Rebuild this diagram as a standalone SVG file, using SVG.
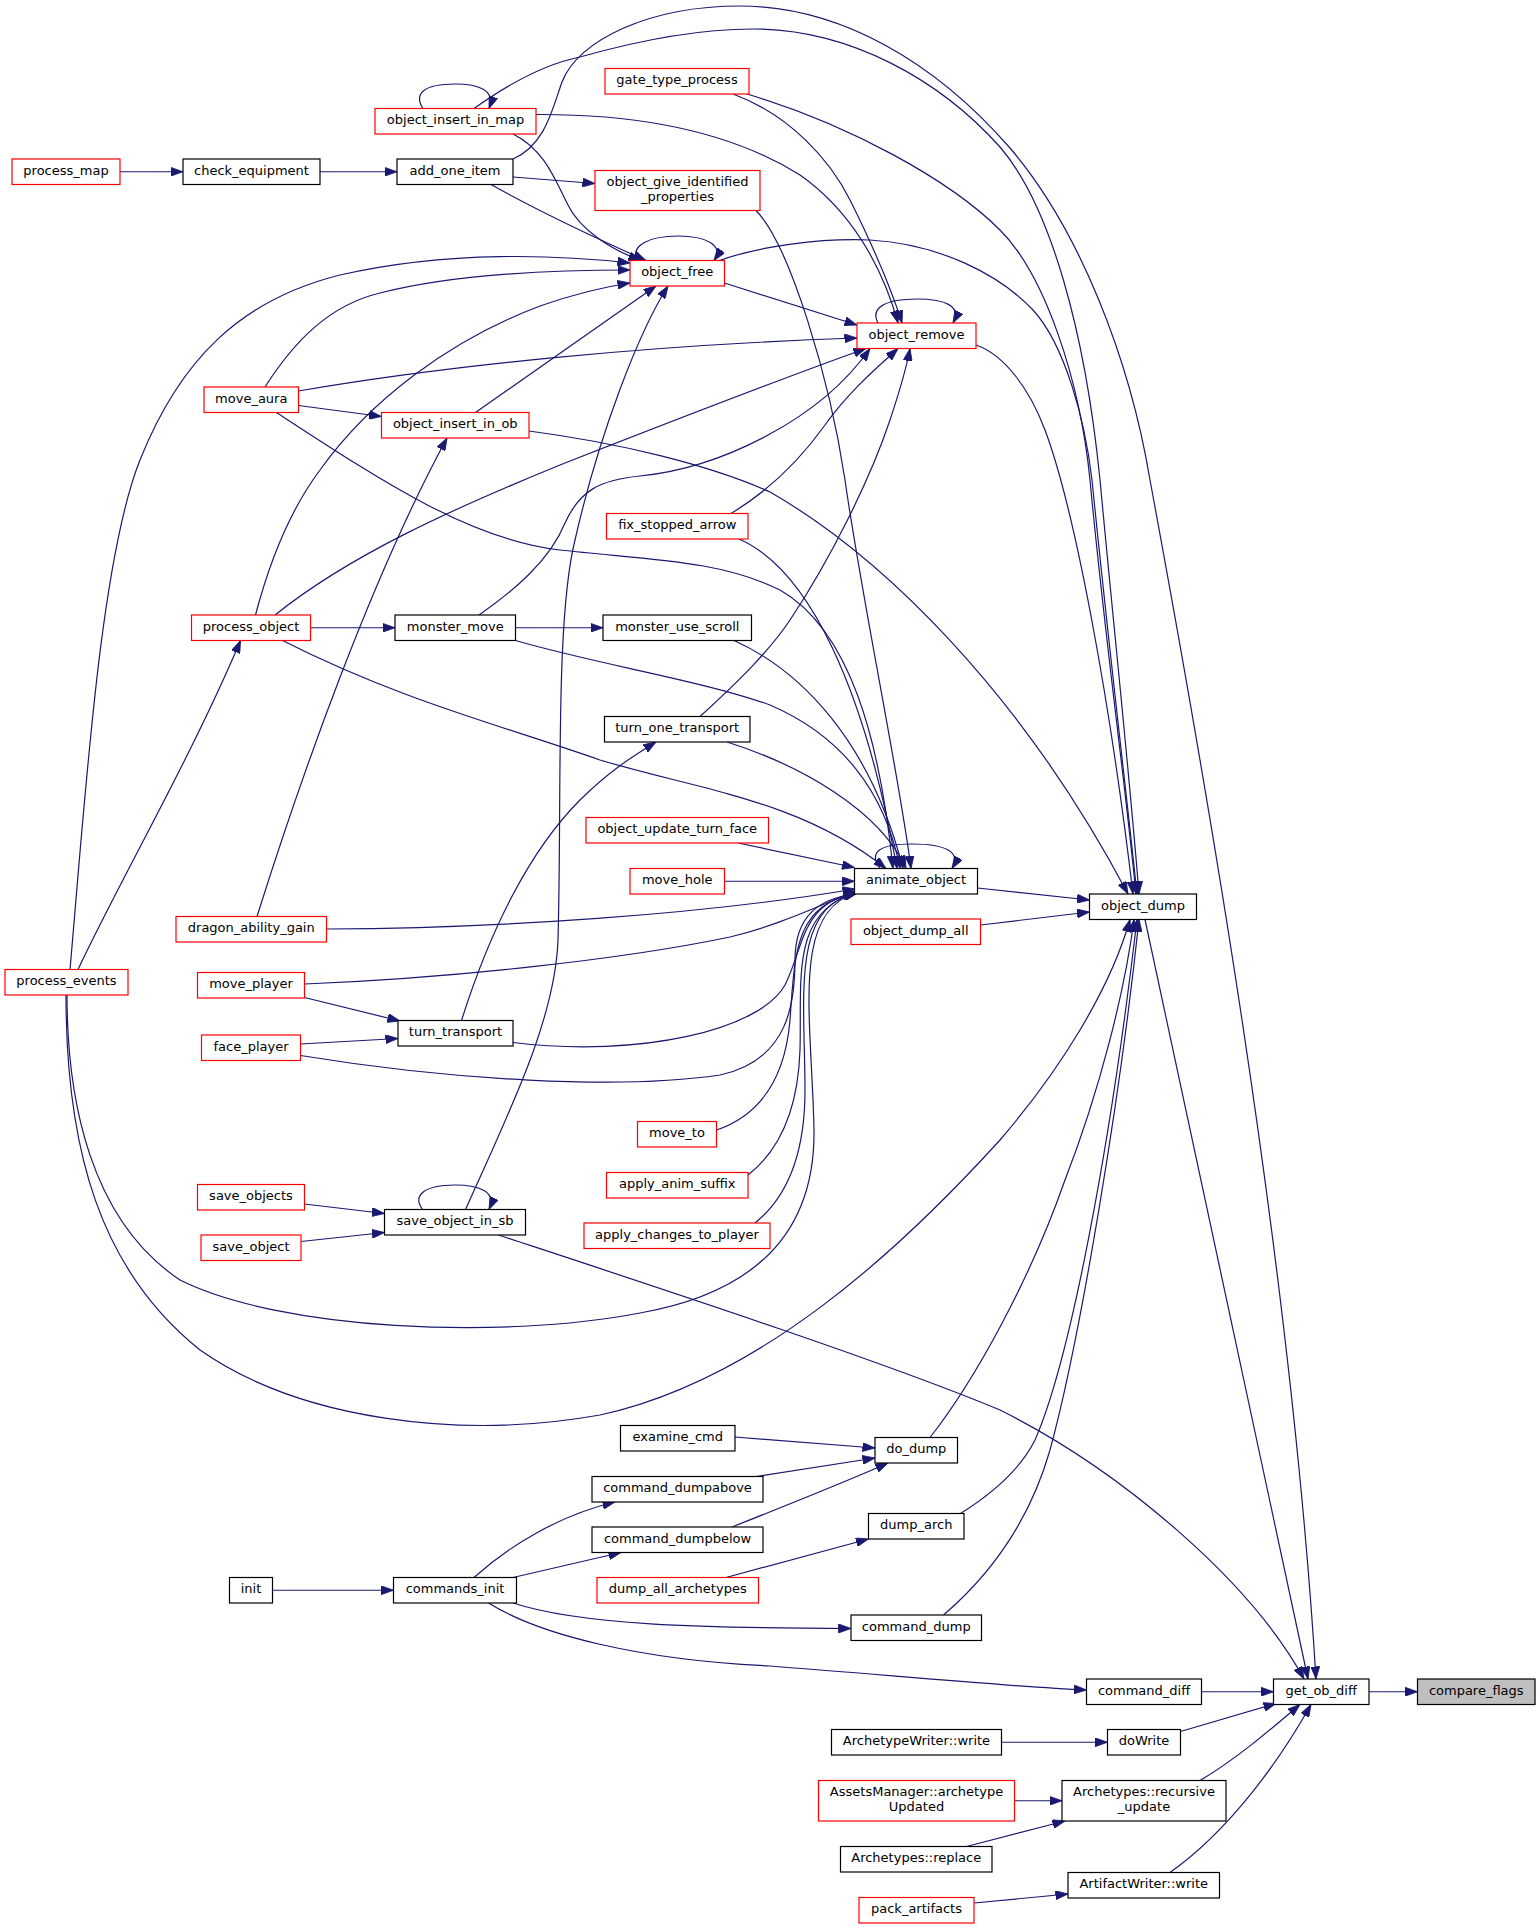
<svg xmlns="http://www.w3.org/2000/svg" width="1537" height="1929" viewBox="0 0 1537 1929">
<style>
.n rect{fill:#fff;stroke:#000;stroke-width:1.2}
.n.r rect{stroke:#f00}
.n.root rect{fill:#bfbfbf}
.n text{font-family:"DejaVu Sans",sans-serif;font-size:13px;text-anchor:middle;fill:#000}
#edges path{fill:none;stroke:#191970;stroke-width:1.2;marker-end:url(#ah)}
</style>
<defs>
<marker id="ah" viewBox="0 0 12.5 9" refX="12.5" refY="4.5" markerWidth="12.5" markerHeight="9" markerUnits="userSpaceOnUse" orient="auto">
<path d="M0,0 L12.5,4.5 L0,9 z" fill="#191970" stroke="#191970" stroke-width="0.8"/>
</marker>
</defs>
<rect x="0" y="0" width="1537" height="1929" fill="#fff"/>
<g id="edges">
<path d="M120,171.75 L183,171.75"/>
<path d="M320,171.75 L397,171.75"/>
<path d="M513,177 L595,183.5"/>
<path d="M491,184.5 C540,212 600,240 646,260.5"/>
<path d="M513,159 C545,145 552,110 562,82 C578,40 650,6 740,6 C840,6 935,62 1010,148 C1080,230 1130,360 1150,480 C1200,750 1290,1250 1316,1679"/>
<path d="M423,108.5 C413,93 425,84 455,84 C478,84 496,90 489,108.5"/>
<path d="M513,134 C545,150 555,180 568,205 C580,230 612,250 641,260.5"/>
<path d="M536,114.5 C620,114 720,125 800,175 C850,210 882,265 898,323"/>
<path d="M474,108.5 C500,90 540,65 580,57 C640,40 700,29 753,29 C850,29 940,80 1000,147 C1050,205 1085,330 1100,480 C1115,640 1130,780 1139,894"/>
<path d="M733,94 C790,115 830,160 850,200 C870,240 890,285 902,323"/>
<path d="M747,94 C850,125 950,180 1000,230 C1045,275 1080,380 1090,480 C1105,640 1125,780 1136,894"/>
<path d="M756,210.5 C790,245 830,380 845,480 C862,600 900,780 911,868.5"/>
<path d="M637,260.5 C630,245 650,236 678,236 C705,236 725,245 714,260.5"/>
<path d="M724.5,283 L857,325"/>
<path d="M719.5,260.5 C760,246 820,238 870,240 C940,244 1000,275 1033,310 C1065,345 1085,420 1092,480 C1108,640 1125,780 1137,894"/>
<path d="M878,323 C870,308 885,299 917,299 C945,299 962,306 953,323"/>
<path d="M976,345 C1005,355 1030,390 1045,430 C1075,510 1110,700 1133,894"/>
<path d="M265,387 C295,340 330,305 380,293 C450,275 550,270 630,270"/>
<path d="M298.5,391 C450,365 650,345 857,338"/>
<path d="M298.5,405.5 L381.5,416.5"/>
<path d="M276.5,412.5 C380,480 470,540 560,550 C650,560 720,560 780,590 C850,630 880,740 893,868.5"/>
<path d="M475.5,412.5 L656,286"/>
<path d="M529,431 C620,443 710,465 770,492 C880,555 1020,690 1128,894"/>
<path d="M255.5,615 C270,560 290,510 320,470 C370,400 450,340 540,306 C580,292 610,286 630,283"/>
<path d="M275,615 C350,555 450,510 560,465 C680,418 800,372 866,348.5"/>
<path d="M310.5,627.75 L395,627.75"/>
<path d="M282.5,640.5 C400,700 500,725 600,760 C700,790 800,800 886,868.5"/>
<path d="M515.5,627.75 L603,627.75"/>
<path d="M479,615 C515,590 550,560 565,523 C580,490 600,480 640,476 C720,468 820,420 870,348.5"/>
<path d="M515.5,640.5 C600,665 700,680 770,705 C840,735 885,790 900,868.5"/>
<path d="M734,640.5 C800,670 870,740 903,868.5"/>
<path d="M731,513.5 C770,490 800,460 825,425 C850,390 880,365 898,348.5"/>
<path d="M739,539 C810,570 865,690 897,868.5"/>
<path d="M700,716.5 C740,680 770,650 790,620 C830,560 870,480 890,420 C900,390 906,370 910,348.5"/>
<path d="M727,742 C800,765 880,810 906,868.5"/>
<path d="M738,843 L854.5,867.5"/>
<path d="M724.5,881.25 L854.5,881.25"/>
<path d="M257,916.5 C300,780 370,580 447,438"/>
<path d="M326.5,929 C500,928 700,915 855,889"/>
<path d="M880,868.5 C868,852 880,844 912,844 C945,844 962,852 952,868.5"/>
<path d="M977.5,888 L1089.5,900"/>
<path d="M980.5,925 L1089.5,912"/>
<path d="M70,969.5 C85,800 100,560 140,460 C180,360 240,300 340,275 C450,250 560,255 630,263"/>
<path d="M78,969.5 C120,880 190,760 240.5,640.5"/>
<path d="M67,995 C67,1100 90,1220 180,1280 C280,1330 500,1340 640,1313 C770,1290 815,1220 814,1130 C812,1020 790,910 857,893"/>
<path d="M66,995 C66,1150 100,1270 200,1350 C300,1420 460,1440 600,1415 C760,1380 900,1250 1000,1140 C1060,1070 1110,990 1130,919.5"/>
<path d="M304.5,997.5 L400,1021"/>
<path d="M304.5,984 C450,978 620,960 730,937 C780,925 820,905 856,891"/>
<path d="M461.5,1020.5 C490,930 530,850 580,800 C610,770 635,755 656,742"/>
<path d="M513,1042.5 C640,1058 760,1030 785,985 C805,945 800,905 856,892"/>
<path d="M300.5,1044 L398,1038.5"/>
<path d="M300.5,1055.5 C450,1080 620,1090 720,1075 C790,1060 795,1000 795,960 C795,915 820,898 856,894"/>
<path d="M716.5,1130 C760,1115 785,1080 790,1020 C795,950 795,905 857,893"/>
<path d="M748,1175 C780,1150 798,1110 800,1050 C802,980 790,910 857,893"/>
<path d="M755,1223 C790,1195 805,1150 805,1090 C805,1000 790,905 857,893"/>
<path d="M304.5,1204 L384.5,1213.5"/>
<path d="M301,1241.5 L384.5,1232.5"/>
<path d="M422.5,1209.5 C412,1195 425,1185 455,1185 C480,1185 497,1192 489,1209.5"/>
<path d="M465.5,1209.5 C510,1110 555,1020 558,940 C562,800 555,620 575,540 C600,430 640,330 668,286"/>
<path d="M498.5,1235 C650,1285 880,1360 1000,1410 C1120,1470 1250,1580 1304,1679"/>
<path d="M735,1437 L875,1448"/>
<path d="M756,1476.5 L875,1458"/>
<path d="M732,1527 C800,1500 850,1480 888,1463"/>
<path d="M930,1437.5 C975,1380 1030,1280 1065,1180 C1100,1090 1125,990 1134,919.5"/>
<path d="M960.5,1513.5 C990,1495 1020,1470 1035,1440 C1070,1360 1110,1150 1137,919.5"/>
<path d="M726,1577.5 L868.5,1539"/>
<path d="M272.5,1590.25 L393.5,1590.25"/>
<path d="M474,1577.5 C510,1545 560,1515 615,1502"/>
<path d="M513,1577.5 L621,1552.5"/>
<path d="M513,1603 C580,1625 700,1628 851,1628.5"/>
<path d="M488.5,1603 C540,1635 640,1660 770,1666 C900,1676 1000,1686 1086.5,1690"/>
<path d="M943.5,1615 C990,1575 1030,1520 1050,1450 C1080,1340 1120,1100 1139,919.5"/>
<path d="M1145,919.5 L1308,1679"/>
<path d="M1201.5,1691.75 L1273.5,1691.75"/>
<path d="M1369,1691.75 L1417.5,1691.75"/>
<path d="M1001.5,1742.25 L1107.5,1742.25"/>
<path d="M1180.5,1731.5 L1276,1703.5"/>
<path d="M1014.5,1800.75 L1062,1800.75"/>
<path d="M966.5,1846.5 L1065,1821"/>
<path d="M1200,1780.5 C1235,1760 1270,1730 1300,1704.5"/>
<path d="M1170,1872.5 C1230,1830 1280,1760 1311,1704.5"/>
<path d="M974,1903 L1068,1894"/>
</g>
<g id="node-process_map" class="n r"><rect x="12" y="159" width="108" height="25.5"/><text x="66" y="174.5">process_map</text></g>
<g id="node-check_equipment" class="n"><rect x="183" y="159" width="137" height="25.5"/><text x="251.5" y="174.5">check_equipment</text></g>
<g id="node-add_one_item" class="n"><rect x="397" y="159" width="116" height="25.5"/><text x="455" y="174.5">add_one_item</text></g>
<g id="node-object_insert_in_map" class="n r"><rect x="375" y="108.5" width="161" height="25.5"/><text x="455.5" y="124">object_insert_in_map</text></g>
<g id="node-gate_type_process" class="n r"><rect x="605" y="68.5" width="144" height="25.5"/><text x="677" y="84">gate_type_process</text></g>
<g id="node-object_give_identified_properties" class="n r"><rect x="595" y="170.5" width="165" height="40"/><text x="677.5" y="186">object_give_identified</text><text x="677.5" y="200.5">_properties</text></g>
<g id="node-object_free" class="n r"><rect x="630" y="260.5" width="94.5" height="25.5"/><text x="677.25" y="276">object_free</text></g>
<g id="node-object_remove" class="n r"><rect x="857" y="323" width="119" height="25.5"/><text x="916.5" y="338.5">object_remove</text></g>
<g id="node-move_aura" class="n r"><rect x="204" y="387" width="94.5" height="25.5"/><text x="251.25" y="402.5">move_aura</text></g>
<g id="node-object_insert_in_ob" class="n r"><rect x="381.5" y="412.5" width="147.5" height="25.5"/><text x="455.25" y="428">object_insert_in_ob</text></g>
<g id="node-fix_stopped_arrow" class="n r"><rect x="606.5" y="513.5" width="141.5" height="25.5"/><text x="677.25" y="529">fix_stopped_arrow</text></g>
<g id="node-process_object" class="n r"><rect x="191.5" y="615" width="119" height="25.5"/><text x="251" y="630.5">process_object</text></g>
<g id="node-monster_move" class="n"><rect x="395" y="615" width="120.5" height="25.5"/><text x="455.25" y="630.5">monster_move</text></g>
<g id="node-monster_use_scroll" class="n"><rect x="603" y="615" width="148.5" height="25.5"/><text x="677.25" y="630.5">monster_use_scroll</text></g>
<g id="node-turn_one_transport" class="n"><rect x="604.5" y="716.5" width="145.5" height="25.5"/><text x="677.25" y="732">turn_one_transport</text></g>
<g id="node-object_update_turn_face" class="n r"><rect x="586" y="817.5" width="182.5" height="25.5"/><text x="677.25" y="833">object_update_turn_face</text></g>
<g id="node-move_hole" class="n r"><rect x="630" y="868.5" width="94.5" height="25.5"/><text x="677.25" y="884">move_hole</text></g>
<g id="node-animate_object" class="n"><rect x="854.5" y="868.5" width="123" height="25.5"/><text x="916" y="884">animate_object</text></g>
<g id="node-object_dump" class="n"><rect x="1089.5" y="894" width="107" height="25.5"/><text x="1143" y="909.5">object_dump</text></g>
<g id="node-object_dump_all" class="n r"><rect x="851" y="919" width="129.5" height="25.5"/><text x="915.75" y="934.5">object_dump_all</text></g>
<g id="node-dragon_ability_gain" class="n r"><rect x="176" y="916.5" width="150.5" height="25.5"/><text x="251.25" y="932">dragon_ability_gain</text></g>
<g id="node-process_events" class="n r"><rect x="5" y="969.5" width="123" height="25.5"/><text x="66.5" y="985">process_events</text></g>
<g id="node-move_player" class="n r"><rect x="197.5" y="972.5" width="107" height="25.5"/><text x="251" y="988">move_player</text></g>
<g id="node-turn_transport" class="n"><rect x="398" y="1020.5" width="115" height="25.5"/><text x="455.5" y="1036">turn_transport</text></g>
<g id="node-face_player" class="n r"><rect x="201.5" y="1035" width="99" height="25.5"/><text x="251" y="1050.5">face_player</text></g>
<g id="node-move_to" class="n r"><rect x="637.5" y="1121.5" width="79" height="25.5"/><text x="677" y="1137">move_to</text></g>
<g id="node-apply_anim_suffix" class="n r"><rect x="606.5" y="1172.5" width="141.5" height="25.5"/><text x="677.25" y="1188">apply_anim_suffix</text></g>
<g id="node-save_objects" class="n r"><rect x="197.5" y="1184.5" width="107" height="25.5"/><text x="251" y="1200">save_objects</text></g>
<g id="node-apply_changes_to_player" class="n r"><rect x="584" y="1223" width="186" height="25.5"/><text x="677" y="1238.5">apply_changes_to_player</text></g>
<g id="node-save_object_in_sb" class="n"><rect x="384.5" y="1209.5" width="141" height="25.5"/><text x="455" y="1225">save_object_in_sb</text></g>
<g id="node-save_object" class="n r"><rect x="201" y="1235" width="100" height="25.5"/><text x="251" y="1250.5">save_object</text></g>
<g id="node-examine_cmd" class="n"><rect x="620.5" y="1425.5" width="114.5" height="25.5"/><text x="677.75" y="1441">examine_cmd</text></g>
<g id="node-do_dump" class="n"><rect x="875" y="1437.5" width="82.5" height="25.5"/><text x="916.25" y="1453">do_dump</text></g>
<g id="node-command_dumpabove" class="n"><rect x="592" y="1476.5" width="171" height="25.5"/><text x="677.5" y="1492">command_dumpabove</text></g>
<g id="node-dump_arch" class="n"><rect x="868.5" y="1513.5" width="95.5" height="25.5"/><text x="916.25" y="1529">dump_arch</text></g>
<g id="node-command_dumpbelow" class="n"><rect x="592" y="1527" width="171" height="25.5"/><text x="677.5" y="1542.5">command_dumpbelow</text></g>
<g id="node-init" class="n"><rect x="229.5" y="1577.5" width="43" height="25.5"/><text x="251" y="1593">init</text></g>
<g id="node-commands_init" class="n"><rect x="393.5" y="1577.5" width="123" height="25.5"/><text x="455" y="1593">commands_init</text></g>
<g id="node-dump_all_archetypes" class="n r"><rect x="597" y="1577.5" width="161.5" height="25.5"/><text x="677.75" y="1593">dump_all_archetypes</text></g>
<g id="node-command_dump" class="n"><rect x="851" y="1615" width="130.5" height="25.5"/><text x="916.25" y="1630.5">command_dump</text></g>
<g id="node-command_diff" class="n"><rect x="1086.5" y="1679" width="115" height="25.5"/><text x="1144" y="1694.5">command_diff</text></g>
<g id="node-get_ob_diff" class="n"><rect x="1273.5" y="1679" width="95.5" height="25.5"/><text x="1321.25" y="1694.5">get_ob_diff</text></g>
<g id="node-compare_flags" class="n root"><rect x="1417.5" y="1679" width="117.5" height="25.5"/><text x="1476.25" y="1694.5">compare_flags</text></g>
<g id="node-ArchetypeWriter_write" class="n"><rect x="831.5" y="1729.5" width="170" height="25.5"/><text x="916.5" y="1745">ArchetypeWriter::write</text></g>
<g id="node-doWrite" class="n"><rect x="1107.5" y="1729.5" width="73" height="25.5"/><text x="1144" y="1745">doWrite</text></g>
<g id="node-AssetsManager_archetypeUpdated" class="n r"><rect x="818.5" y="1780.5" width="196" height="40.5"/><text x="916.5" y="1796">AssetsManager::archetype</text><text x="916.5" y="1811">Updated</text></g>
<g id="node-Archetypes_recursive_update" class="n"><rect x="1062" y="1780.5" width="164" height="40.5"/><text x="1144" y="1796">Archetypes::recursive</text><text x="1144" y="1811">_update</text></g>
<g id="node-Archetypes_replace" class="n"><rect x="840.5" y="1846.5" width="151.5" height="25.5"/><text x="916.25" y="1862">Archetypes::replace</text></g>
<g id="node-ArtifactWriter_write" class="n"><rect x="1068" y="1872.5" width="151.5" height="25.5"/><text x="1143.75" y="1888">ArtifactWriter::write</text></g>
<g id="node-pack_artifacts" class="n r"><rect x="859" y="1897.5" width="115" height="25.5"/><text x="916.5" y="1913">pack_artifacts</text></g>
</svg>
